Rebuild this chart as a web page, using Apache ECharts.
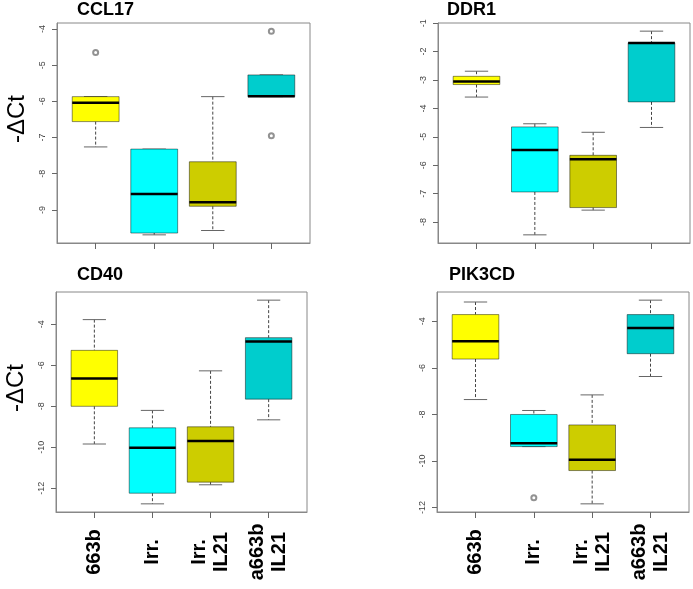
<!DOCTYPE html>
<html>
<head>
<meta charset="utf-8">
<script src="https://cdn.jsdelivr.net/npm/echarts@6/dist/echarts.min.js"></script>
<style>
html, body { margin: 0; padding: 0; background: #fff; }
#chart { width: 693px; height: 589px; }
</style>
</head>
<body>
<div id="chart"></div>
<script>
var groups = ['663b', 'Irr.', 'Irr.\nIL21', 'a663b\nIL21'];
var colors = ['#ffff00', '#00ffff', '#cdcd00', '#00cdcd'];
var genes = ['CCL17', 'DDR1', 'CD40', 'PIK3CD'];

// per group: [lower whisker, Q1, median, Q3, upper whisker]
var ccl17Stats = [
	[-7.26, -6.56, -6.04, -5.87, -5.87],
	[-9.69, -9.64, -8.56, -7.32, -7.32],
	[-9.57, -8.90, -8.79, -7.67, -5.87],
	[-5.87, -5.87, -5.86, -5.27, -5.27]
];
var ddr1Stats = [
	[-3.60, -3.16, -3.05, -2.87, -2.69],
	[-8.45, -6.94, -5.46, -4.65, -4.54],
	[-7.58, -7.49, -5.79, -5.65, -4.84],
	[-4.67, -3.77, -1.70, -1.69, -1.28]
];
var cd40Stats = [
	[-9.84, -8.00, -6.64, -5.27, -3.77],
	[-12.76, -12.24, -10.02, -9.05, -8.20],
	[-11.83, -11.70, -9.69, -9.00, -6.27],
	[-8.66, -7.65, -4.84, -4.65, -2.82]
];
var pik3cdStats = [
	[-7.36, -5.62, -4.86, -3.71, -3.17],
	[-9.38, -9.38, -9.24, -8.00, -7.83],
	[-11.84, -10.41, -9.95, -8.45, -7.16],
	[-6.37, -5.39, -4.29, -3.71, -3.09]
];

// outliers: [group number, value]
var ccl17Out = [[1, -4.65], [4, -4.06], [4, -6.95]];
var ddr1Out = [];
var cd40Out = [];
var pik3cdOut = [[2, -11.58]];

// y tick values
var ccl17Ticks = [-9, -8, -7, -6, -5, -4];
var ddr1Ticks = [-8, -7, -6, -5, -4, -3, -2, -1];
var cd40Ticks = [-12, -10, -8, -6, -4];
var pik3cdTicks = [-12, -10, -8, -6, -4];

var allStats = [ccl17Stats, ddr1Stats, cd40Stats, pik3cdStats];
var allOut = [ccl17Out, ddr1Out, cd40Out, pik3cdOut];
var allTicks = [ccl17Ticks, ddr1Ticks, cd40Ticks, pik3cdTicks];

var gridPos = [
	{ left: 57, top: 23, width: 253, height: 220 },
	{ left: 438, top: 23, width: 252, height: 220 },
	{ left: 56, top: 292, width: 251, height: 220 },
	{ left: 437, top: 292, width: 252, height: 220 }
];
var titlePos = [[77, 1], [447, 1], [77, 266], [449, 266]];

function yRange(stats, out) {
	var vals = [];
	stats.forEach(function (s) { vals = vals.concat(s); });
	out.forEach(function (o) { vals.push(o[1]); });
	var lo = Math.min.apply(null, vals), hi = Math.max.apply(null, vals);
	var ext = (hi - lo) * 0.04;
	return [lo - ext, hi + ext];
}

function renderBox(params, api) {
	var x = api.value(0);
	var pLo = api.coord([x, api.value(1)]);
	var pQ1 = api.coord([x, api.value(2)]);
	var pMed = api.coord([x, api.value(3)]);
	var pQ3 = api.coord([x, api.value(4)]);
	var pHi = api.coord([x, api.value(5)]);
	var w = api.size([0.8, 0])[0];
	var cx = pMed[0];
	var whisk = { stroke: '#444', lineWidth: 1, lineDash: [3, 2] };
	var cap = { stroke: '#666', lineWidth: 1 };
	return {
		type: 'group',
		children: [
			{ type: 'line', shape: { x1: cx, y1: pHi[1], x2: cx, y2: pQ3[1] }, style: whisk },
			{ type: 'line', shape: { x1: cx, y1: pQ1[1], x2: cx, y2: pLo[1] }, style: whisk },
			{ type: 'line', shape: { x1: cx - w / 4, y1: pHi[1], x2: cx + w / 4, y2: pHi[1] }, style: cap },
			{ type: 'line', shape: { x1: cx - w / 4, y1: pLo[1], x2: cx + w / 4, y2: pLo[1] }, style: cap },
			{ type: 'rect', shape: { x: cx - w / 2, y: pQ3[1], width: w, height: pQ1[1] - pQ3[1] },
				style: { fill: colors[x - 1], stroke: 'rgba(0,0,0,0.45)', lineWidth: 1 } },
			{ type: 'line', shape: { x1: cx - w / 2, y1: pMed[1], x2: cx + w / 2, y2: pMed[1] },
				style: { stroke: '#000', lineWidth: 2.5 } }
		]
	};
}

var grids = [], xAxes = [], yAxes = [], titles = [], series = [];

for (var i = 0; i < 4; i++) {
	var g = gridPos[i];
	grids.push({
		left: g.left, top: g.top, width: g.width, height: g.height,
		show: true, borderColor: '#888', borderWidth: 1, backgroundColor: '#fff'
	});
	titles.push({
		text: genes[i], left: titlePos[i][0], top: titlePos[i][1], padding: 0,
		textStyle: { fontFamily: 'Liberation Sans, Arial', fontWeight: 'bold', fontSize: 18, color: '#000' }
	});
	xAxes.push({
		gridIndex: i, type: 'value', min: 0.34, max: 4.66,
		splitLine: { show: false },
		axisLine: { show: true, lineStyle: { color: '#888' } },
		axisTick: { show: true, customValues: [1, 2, 3, 4], length: 6, lineStyle: { color: '#666' } },
		axisLabel: {
			show: i >= 2, customValues: [1, 2, 3, 4], rotate: 90, margin: 40,
			align: 'center', verticalAlign: 'middle',
			formatter: function (v) { return groups[Math.round(v) - 1]; },
			fontFamily: 'Liberation Sans, Arial', fontWeight: 'bold', fontSize: 20,
			lineHeight: 22, color: '#000'
		}
	});
	var r = yRange(allStats[i], allOut[i]);
	yAxes.push({
		gridIndex: i, type: 'value', min: r[0], max: r[1],
		name: (i % 2 == 0) ? '-\u0394Ct' : '',
		nameLocation: 'middle', nameRotate: 90, nameGap: 28,
		nameTextStyle: { fontFamily: 'Liberation Sans, Arial', fontSize: 24, color: '#000', padding: [0, 0, 0, 28] },
		splitLine: { show: false },
		axisLine: { show: true, lineStyle: { color: '#888' } },
		axisTick: { show: true, customValues: allTicks[i], length: 5, lineStyle: { color: '#666' } },
		axisLabel: {
			customValues: allTicks[i], rotate: 90, margin: 10,
			fontFamily: 'Liberation Sans, Arial', fontSize: 9, color: '#444'
		}
	});
	series.push({
		type: 'custom', xAxisIndex: i, yAxisIndex: i,
		renderItem: renderBox,
		encode: { x: 0, y: [1, 2, 3, 4, 5] },
		data: allStats[i].map(function (s, k) { return [k + 1].concat(s); }),
		silent: true
	});
	series.push({
		type: 'scatter', xAxisIndex: i, yAxisIndex: i,
		symbol: 'emptyCircle', symbolSize: 5,
		itemStyle: { color: '#777', borderWidth: 0.8 },
		data: allOut[i], silent: true
	});
}

var chart = echarts.init(document.getElementById('chart'));
chart.setOption({
	animation: false,
	title: titles,
	grid: grids,
	xAxis: xAxes,
	yAxis: yAxes,
	series: series
});
</script>
</body>
</html>
